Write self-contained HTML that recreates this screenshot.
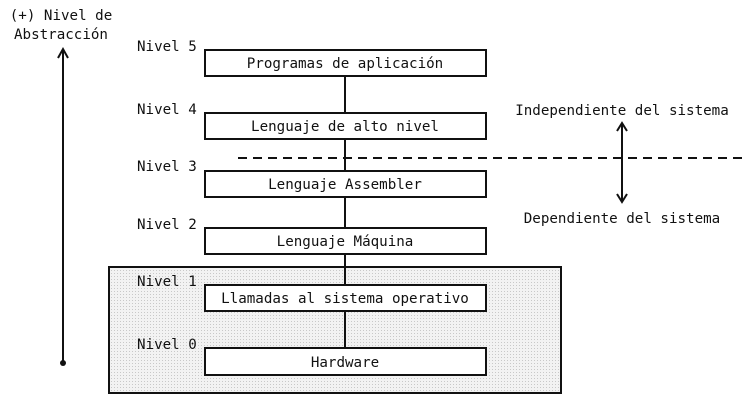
<!DOCTYPE html>
<html><head><meta charset="utf-8"><style>
body{margin:0;background:#fff;}
svg text{font-family:"DejaVu Sans Mono","Liberation Mono",monospace;font-size:14.2px;fill:#111;}
</style></head><body>
<svg width="748" height="403" viewBox="0 0 748 403" xmlns="http://www.w3.org/2000/svg">
<defs>
<pattern id="dots" width="3" height="3" patternUnits="userSpaceOnUse">
<rect width="3" height="3" fill="#f2f2f2"/><rect width="1" height="1" fill="#c8c8c8"/>
</pattern>
</defs>
<rect x="109" y="267" width="452" height="126" fill="url(#dots)" stroke="#111" stroke-width="2"/>
<line x1="345" y1="76" x2="345" y2="348" stroke="#111" stroke-width="2"/>
<g fill="#fff" stroke="#111" stroke-width="2">
<rect x="205" y="50" width="281" height="26"/>
<rect x="205" y="113" width="281" height="26"/>
<rect x="205" y="171" width="281" height="26"/>
<rect x="205" y="228" width="281" height="26"/>
<rect x="205" y="285" width="281" height="26"/>
<rect x="205" y="348" width="281" height="27"/>
</g>
<g text-anchor="middle">
<text x="345" y="68">Programas de aplicación</text>
<text x="345" y="131">Lenguaje de alto nivel</text>
<text x="345" y="189">Lenguaje Assembler</text>
<text x="345" y="246">Lenguaje Máquina</text>
<text x="345" y="303">Llamadas al sistema operativo</text>
<text x="345" y="367">Hardware</text>
<text x="61" y="20">(+) Nivel de</text>
<text x="61" y="39">Abstracción</text>
<text x="622" y="115">Independiente del sistema</text>
<text x="622" y="223">Dependiente del sistema</text>
</g>
<g>
<text x="137" y="51">Nivel 5</text>
<text x="137" y="114">Nivel 4</text>
<text x="137" y="171">Nivel 3</text>
<text x="137" y="229">Nivel 2</text>
<text x="137" y="286">Nivel 1</text>
<text x="137" y="349">Nivel 0</text>
</g>
<line x1="238" y1="158" x2="748" y2="158" stroke="#111" stroke-width="2" stroke-dasharray="9,6"/>
<line x1="622" y1="124" x2="622" y2="201" stroke="#111" stroke-width="2"/>
<polyline points="617,131 622,123 627,131" fill="none" stroke="#111" stroke-width="2"/>
<polyline points="617,194 622,202 627,194" fill="none" stroke="#111" stroke-width="2"/>
<line x1="63" y1="50" x2="63" y2="362" stroke="#111" stroke-width="2"/>
<polyline points="58,58 63,49 68,58" fill="none" stroke="#111" stroke-width="2"/>
<circle cx="63" cy="363" r="3" fill="#111"/>
</svg>
</body></html>
